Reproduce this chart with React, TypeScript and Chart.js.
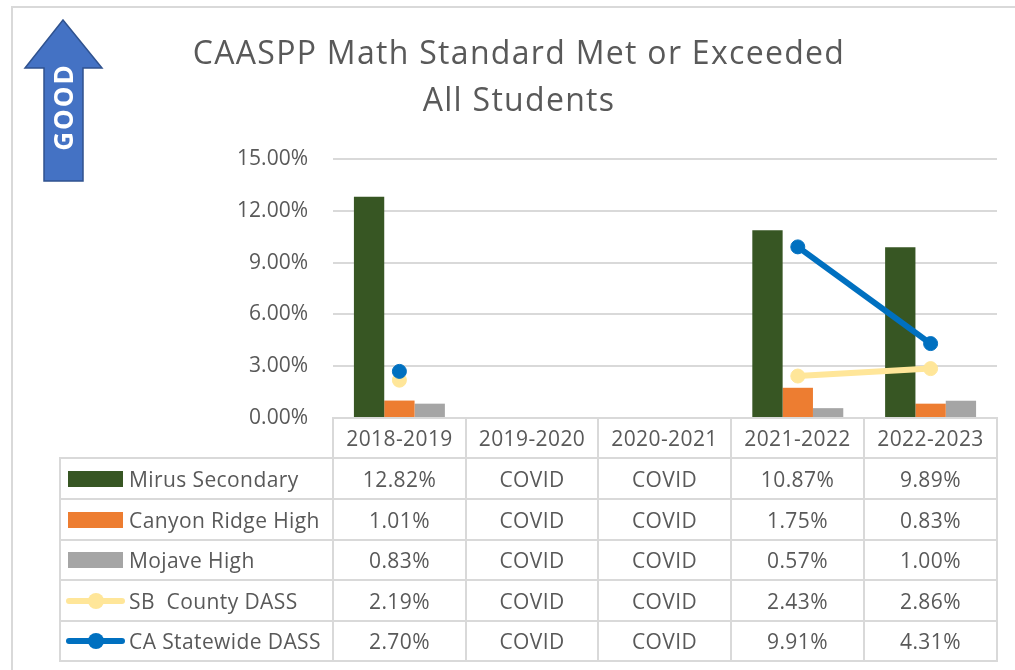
import React, { useEffect, useRef } from "react";
import { Chart, registerables } from "chart.js";

Chart.register(...registerables);

const categories = ["2018-2019", "2019-2020", "2020-2021", "2021-2022", "2022-2023"];
const mirusSecondary: (number | null)[] = [12.82, null, null, 10.87, 9.89];
const canyonRidgeHigh: (number | null)[] = [1.01, null, null, 1.75, 0.83];
const mojaveHigh: (number | null)[] = [0.83, null, null, 0.57, 1.0];
const sbCountyDass: (number | null)[] = [2.19, null, null, 2.43, 2.86];
const caStatewideDass: (number | null)[] = [2.7, null, null, 9.91, 4.31];
const yTicks = [0, 3, 6, 9, 12, 15];
const missingLabel = "COVID";
const titleLines = ["CAASPP Math Standard Met or Exceeded", "All Students"];

const GREEN = "#375623";
const ORANGE = "#ED7D31";
const GRAY = "#A5A5A5";
const YELLOW = "#FFE699";
const BLUE = "#0070C0";
const GRID = "#D9D9D9";
const TEXT = "#595959";
const FONT = "'Open Sans', sans-serif";

type Series = { name: string; values: (number | null)[]; color: string; kind: "bar" | "line" };
const series: Series[] = [
  { name: "Mirus Secondary", values: mirusSecondary, color: GREEN, kind: "bar" },
  { name: "Canyon Ridge High", values: canyonRidgeHigh, color: ORANGE, kind: "bar" },
  { name: "Mojave High", values: mojaveHigh, color: GRAY, kind: "bar" },
  { name: "SB  County DASS", values: sbCountyDass, color: YELLOW, kind: "line" },
  { name: "CA Statewide DASS", values: caStatewideDass, color: BLUE, kind: "line" },
];

const fmt = (v: number) => v.toFixed(2) + "%";

// table layout
const colX = [60, 333, 466, 598, 731, 864, 997];
const rowY = [418, 458, 499, 540, 580, 621, 661];

function DataTable() {
  const lines: React.ReactNode[] = [];
  for (let r = 1; r < rowY.length; r++) {
    lines.push(
      <div key={"h" + r} style={{ position: "absolute", left: colX[0], top: rowY[r] - 1, width: colX[colX.length - 1] - colX[0] + 1, height: 2, background: GRID }} />
    );
  }
  for (let c = 0; c < colX.length; c++) {
    const top = c === 0 ? rowY[1] : rowY[0];
    lines.push(
      <div key={"v" + c} style={{ position: "absolute", left: colX[c] - 1, top: top - 1, width: 2, height: rowY[rowY.length - 1] - top + 2, background: GRID }} />
    );
  }
  const cells: React.ReactNode[] = [];
  const cellStyle = (x0: number, x1: number, y0: number, y1: number): React.CSSProperties => ({
    position: "absolute",
    left: x0,
    top: y0,
    width: x1 - x0,
    height: y1 - y0,
    display: "flex",
    alignItems: "center",
    justifyContent: "center",
    fontFamily: FONT,
    fontSize: 21,
    letterSpacing: 0.4,
    color: TEXT,
    whiteSpace: "pre",
  });
  categories.forEach((cat, j) => {
    cells.push(
      <div key={"hc" + j} style={cellStyle(colX[j + 1], colX[j + 2], rowY[0], rowY[1])}>{cat}</div>
    );
  });
  series.forEach((s, i) => {
    const y0 = rowY[i + 1];
    const y1 = rowY[i + 2];
    const key =
      s.kind === "bar" ? (
        <div style={{ position: "absolute", left: 8, top: (y1 - y0) / 2 - 8, width: 55, height: 16, background: s.color }} />
      ) : (
        <>
          <div style={{ position: "absolute", left: 6, top: (y1 - y0) / 2 - 3, width: 59, height: 6, background: s.color, borderRadius: 3 }} />
          <div style={{ position: "absolute", left: 28, top: (y1 - y0) / 2 - 8, width: 16, height: 16, background: s.color, borderRadius: 8 }} />
        </>
      );
    cells.push(
      <div key={"l" + i} style={{ position: "absolute", left: colX[0], top: y0, width: colX[1] - colX[0], height: y1 - y0 }}>
        {key}
        <div style={{ position: "absolute", left: 69, top: 0, height: y1 - y0, display: "flex", alignItems: "center", fontFamily: FONT, fontSize: 21, letterSpacing: 0.4, color: TEXT, whiteSpace: "pre" }}>
          {s.name}
        </div>
      </div>
    );
    s.values.forEach((v, j) => {
      cells.push(
        <div key={"c" + i + "_" + j} style={cellStyle(colX[j + 1], colX[j + 2], y0, y1)}>
          {v === null ? missingLabel : fmt(v)}
        </div>
      );
    });
  });
  return (
    <>
      {lines}
      {cells}
    </>
  );
}

function GoodArrow() {
  return (
    <svg width={140} height={200} style={{ position: "absolute", left: 0, top: 0 }}>
      <polygon
        points="63,20 102,68 83,68 83,181 44,181 44,68 25,68"
        fill="#4472C4"
        stroke="#2F528F"
        strokeWidth={1.5}
      />
      <text
        x={0}
        y={0}
        transform="translate(63,107) rotate(-90)"
        textAnchor="middle"
        dominantBaseline="central"
        fill="#FFFFFF"
        fontFamily={FONT}
        fontWeight={700}
        fontSize={26}
        letterSpacing={2}
      >
        GOOD
      </text>
    </svg>
  );
}

export default function App() {
  const canvasRef = useRef<HTMLCanvasElement | null>(null);

  useEffect(() => {
    if (!canvasRef.current) return;
    const datasets: any[] = series.map((s) => {
      if (s.kind === "bar") {
        return {
          type: "bar",
          label: s.name,
          data: s.values,
          backgroundColor: s.color,
          borderWidth: 0,
          order: 3,
          barPercentage: 1,
          categoryPercentage: 0.685,
        };
      }
      return {
        type: "line",
        label: s.name,
        data: s.values,
        borderColor: s.color,
        backgroundColor: s.color,
        borderWidth: 6,
        pointRadius: 7,
        pointBorderWidth: 1,
        pointBackgroundColor: s.color,
        pointBorderColor: s.color,
        spanGaps: false,
        fill: false,
        tension: 0,
        order: s.color === BLUE ? 0 : 1,
      };
    });
    const chart = new Chart(canvasRef.current, {
      type: "bar",
      data: { labels: categories, datasets },
      options: {
        responsive: false,
        animation: false,
        devicePixelRatio: 1,
        layout: { padding: { top: 159, right: 18, bottom: 252, left: 0 } },
        plugins: {
          legend: { display: false },
          tooltip: { enabled: false },
          title: { display: false },
        },
        scales: {
          x: {
            display: false,
            offset: true,
            grid: { offset: true },
          },
          y: {
            min: 0,
            max: 15,
            afterFit: (scale: any) => {
              scale.width = 333;
            },
            afterBuildTicks: (scale: any) => {
              scale.ticks = yTicks.map((v) => ({ value: v }));
            },
            border: { display: false },
            grid: { color: GRID, lineWidth: 2, drawTicks: false },
            ticks: {
              padding: 25,
              color: TEXT,
              font: { family: "'Open Sans'", size: 21 },
              callback: (v: any) => fmt(Number(v)),
            },
          },
        },
      } as any,
    });
    return () => chart.destroy();
  }, []);

  return (
    <div style={{ position: "fixed", left: 0, top: 0, width: 1015, height: 670, overflow: "hidden", background: "#FFFFFF" }}>
      <div style={{ position: "absolute", left: 11, top: 6, width: 1100, height: 800, border: `2px solid ${GRID}`, boxSizing: "border-box" }} />
      <canvas ref={canvasRef} width={1015} height={670} style={{ position: "absolute", left: 0, top: 0, width: 1015, height: 670 }} />
      <GoodArrow />
      <div style={{ position: "absolute", left: 0, top: 28, width: 1038, textAlign: "center", fontFamily: FONT, fontSize: 32, letterSpacing: 1.3, lineHeight: "47px", color: TEXT }}>
        {titleLines.map((t, i) => (
          <div key={i}>{t}</div>
        ))}
      </div>
      <DataTable />
    </div>
  );
}
